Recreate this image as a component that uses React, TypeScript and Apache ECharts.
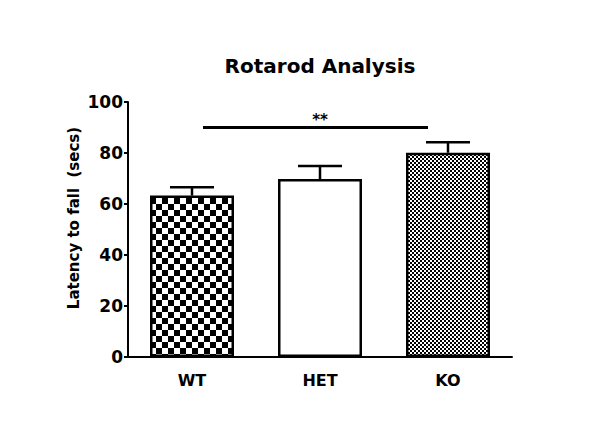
import React, { useEffect, useRef } from "react";
import * as echarts from "echarts";

const categories = ["WT", "HET", "KO"];
const means = [63.3, 69.8, 80.1];
const errUpper = [66.6, 74.9, 84.2];
const sigPair = [0, 2];
const sigY = 90;
const sigText = "**";
const titleText = "Rotarod Analysis";
const yName = "Latency to fall  (secs)";

const FONT = "DejaVu Sans";

function makeChecker(cell: number): HTMLCanvasElement {
  const c = document.createElement("canvas");
  c.width = cell * 2;
  c.height = cell * 2;
  const ctx = c.getContext("2d")!;
  ctx.fillStyle = "#ffffff";
  ctx.fillRect(0, 0, cell * 2, cell * 2);
  ctx.fillStyle = "#000000";
  ctx.fillRect(0, 0, cell, cell);
  ctx.fillRect(cell, cell, cell, cell);
  return c;
}

export default function App() {
  const ref = useRef<HTMLDivElement>(null);
  useEffect(() => {
    if (!ref.current) return;
    const chart = echarts.init(ref.current, null, { renderer: "svg" });
    const big = makeChecker(6);
    const small = makeChecker(2);
    const fills: any[] = [
      { image: big, repeat: "repeat", imageWidth: 12, imageHeight: 12 },
      "#ffffff",
      { image: small, repeat: "repeat", imageWidth: 4, imageHeight: 4 },
    ];
    chart.setOption({
      animation: false,
      backgroundColor: "#ffffff",
      title: {
        text: titleText,
        left: 315,
        top: 51,
        textAlign: "center",
        textStyle: { fontFamily: FONT, fontWeight: "bold", fontSize: 20, color: "#000" },
      },
      graphic: [
        {
          type: "text",
          x: 74,
          y: 218,
          rotation: Math.PI / 2,
          style: {
            text: yName,
            textAlign: "center",
            textVerticalAlign: "middle",
            fontFamily: FONT,
            fontWeight: "bold",
            fontSize: 15,
            fill: "#000",
          },
        },
      ],
      grid: { left: 128, right: 88, top: 102, bottom: 68, containLabel: false },
      xAxis: {
        type: "category",
        data: categories,
        axisLine: { lineStyle: { color: "#000", width: 2 } },
        axisTick: { alignWithLabel: true, length: 6, lineStyle: { color: "#000", width: 2 } },
        axisLabel: { color: "#000", fontFamily: FONT, fontWeight: "bold", fontSize: 16, margin: 15 },
      },
      yAxis: {
        type: "value",
        min: 0,
        max: 100,
        interval: 20,
        splitLine: { show: false },
        axisLine: { show: true, lineStyle: { color: "#000", width: 2 } },
        axisTick: { show: true, length: 4, lineStyle: { color: "#000", width: 2 } },
        axisLabel: { color: "#000", fontFamily: FONT, fontWeight: "bold", fontSize: 17, margin: 5 },
      },
      series: [
        {
          type: "bar",
          barWidth: 84,
          data: means.map((v, i) => ({
            value: v,
            itemStyle: { color: fills[i], borderColor: "#000", borderWidth: 2.5 },
          })),
        },
        {
          type: "custom",
          clip: false,
          z: 5,
          data: means.map((m, i) => [i, m, errUpper[i]]),
          renderItem: (params: any, api: any) => {
            const p0 = api.coord([api.value(0), api.value(1)]);
            const p1 = api.coord([api.value(0), api.value(2)]);
            const st = { stroke: "#000", lineWidth: 2.5 };
            return {
              type: "group",
              children: [
                { type: "line", shape: { x1: p0[0], y1: p0[1], x2: p1[0], y2: p1[1] }, style: st },
                { type: "line", shape: { x1: p1[0] - 22, y1: p1[1], x2: p1[0] + 22, y2: p1[1] }, style: st },
              ],
            };
          },
        },
        {
          type: "custom",
          clip: false,
          z: 5,
          data: [[sigPair[0], sigPair[1], sigY]],
          renderItem: (params: any, api: any) => {
            const a = api.coord([api.value(0), api.value(2)]);
            const b = api.coord([api.value(1), api.value(2)]);
            return {
              type: "group",
              children: [
                {
                  type: "line",
                  shape: { x1: a[0] + 11, y1: a[1], x2: b[0] - 20, y2: b[1] },
                  style: { stroke: "#000", lineWidth: 3 },
                },
                {
                  type: "text",
                  x: (a[0] + b[0]) / 2,
                  y: a[1] - 8,
                  style: {
                    text: sigText,
                    textAlign: "center",
                    textVerticalAlign: "middle",
                    fontFamily: FONT,
                    fontWeight: "bold",
                    fontSize: 15,
                    fill: "#000",
                  },
                },
              ],
            };
          },
        },
      ],
    });
    return () => chart.dispose();
  }, []);
  return <div ref={ref} style={{ position: "absolute", left: 0, top: 0, width: 600, height: 425 }} />;
}
